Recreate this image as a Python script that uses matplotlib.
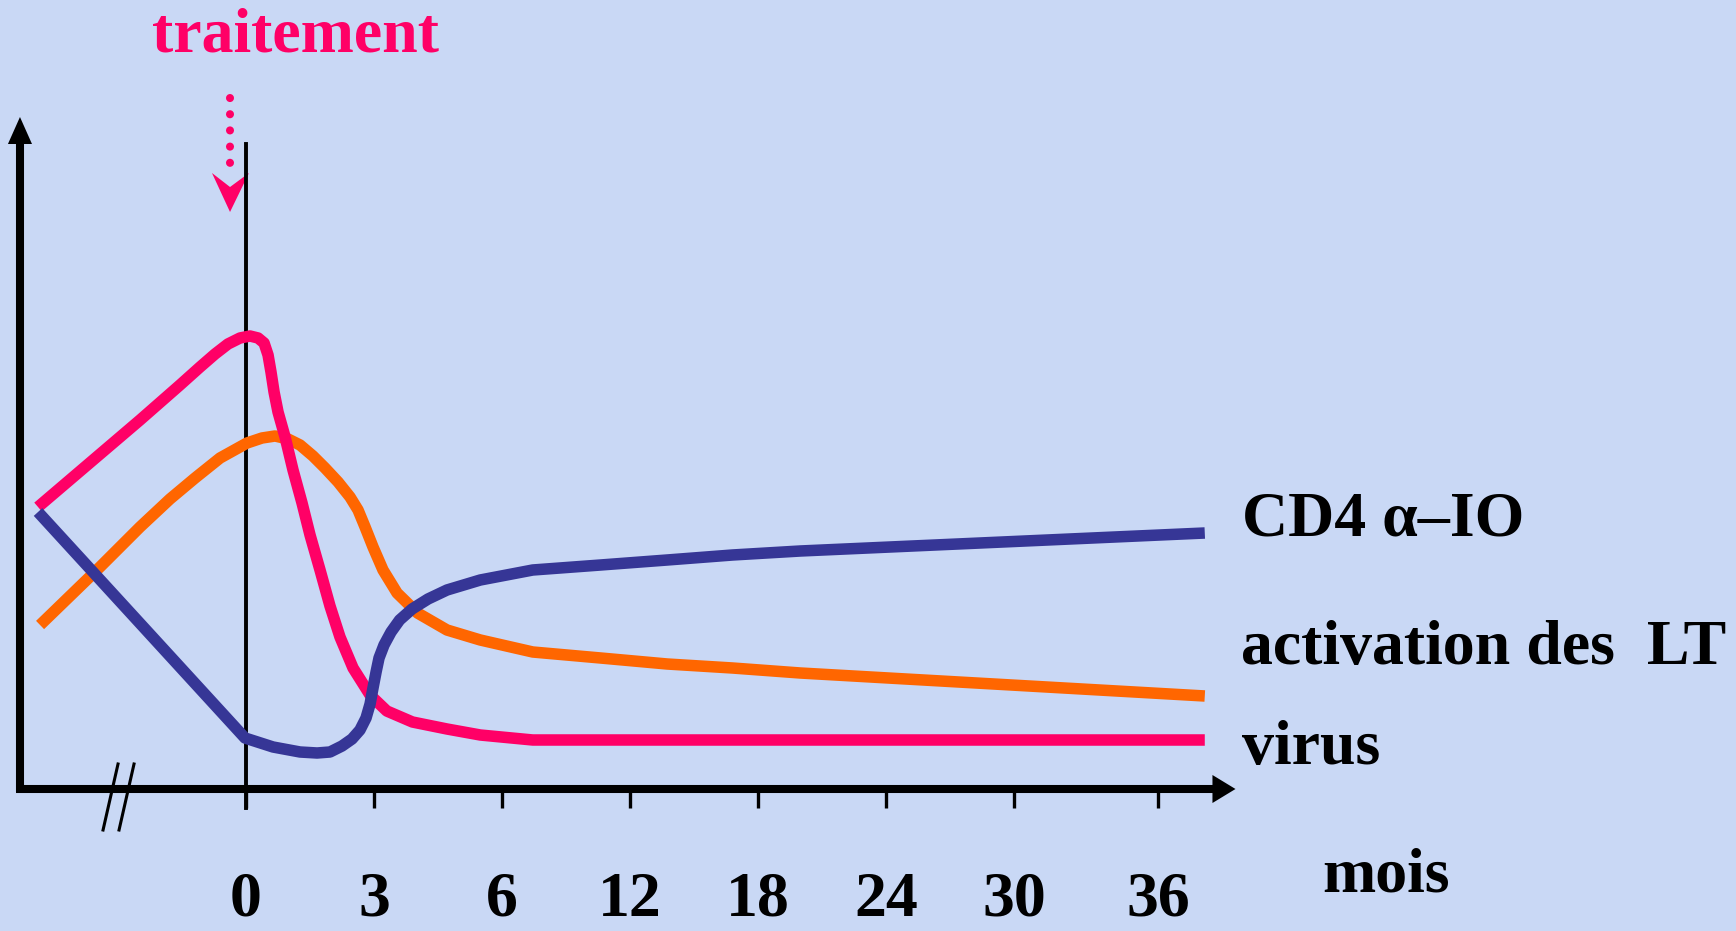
import matplotlib.pyplot as plt

plt.rcParams['font.family'] = ['Liberation Serif', 'DejaVu Serif']

# graduations de l'axe des temps (une unite = un intervalle) et libelles en mois
tick_pos = [0, 1, 2, 3, 4, 5, 6, 7.125]
tick_lab = ["0", "3", "6", "12", "18", "24", "30", "36"]

# charge virale
virus_x = [-1.625, -0.828, -0.516, -0.359, -0.242, -0.141, -0.047, 0.031, 0.094, 0.141,
           0.172, 0.195, 0.219, 0.25, 0.305, 0.367, 0.4375, 0.50, 0.578, 0.656,
           0.734, 0.836, 0.969, 1.10, 1.30, 1.57, 1.83, 2.24, 7.49]
virus_y = [2.82, 3.69, 4.04, 4.22, 4.35, 4.45, 4.51, 4.53, 4.51, 4.46,
           4.34, 4.17, 3.97, 3.77, 3.52, 3.19, 2.86, 2.54, 2.19, 1.83,
           1.52, 1.21, 0.94, 0.78, 0.67, 0.60, 0.54, 0.49, 0.49]

# activation des lymphocytes T
activ_x = [-1.609, -1.141, -0.828, -0.594, -0.398, -0.203, 0.008, 0.125, 0.227, 0.328,
           0.422, 0.523, 0.617, 0.719, 0.8125, 0.875, 0.93, 0.992, 1.07, 1.18,
           1.34, 1.57, 1.83, 2.24, 2.77, 3.29, 3.80, 4.33, 7.49]
activ_y = [1.64, 2.22, 2.62, 2.90, 3.11, 3.31, 3.46, 3.51, 3.53, 3.50,
           3.44, 3.33, 3.21, 3.07, 2.92, 2.79, 2.62, 2.42, 2.19, 1.96,
           1.76, 1.59, 1.49, 1.37, 1.31, 1.25, 1.21, 1.16, 0.93]

# CD4 alpha-IO
cd4_x = [-1.625, -0.008, 0.211, 0.422, 0.555, 0.656, 0.75, 0.828, 0.89, 0.9375,
         0.969, 0.992, 1.016, 1.039, 1.078, 1.133, 1.20, 1.297, 1.422, 1.57,
         1.83, 2.24, 2.77, 3.29, 3.80, 4.33, 7.49]
cd4_y = [2.77, 0.51, 0.42, 0.37, 0.36, 0.37, 0.43, 0.50, 0.59, 0.71,
         0.85, 1.01, 1.17, 1.31, 1.44, 1.57, 1.69, 1.80, 1.90, 1.99,
         2.09, 2.19, 2.24, 2.29, 2.34, 2.38, 2.56]

BG = "#c9d8f5"
PINK = "#ff0066"
ORANGE = "#ff6600"
BLUE = "#363696"

fig = plt.figure(figsize=(17.36, 9.31), dpi=100, facecolor=BG)
ax = fig.add_axes([0, 0, 1, 1])
ax.set_facecolor(BG)
ax.axis("off")
ax.set_xlim(-1.922, 11.64)
ax.set_ylim(-1.42, 7.89)

txt = dict(fontsize=46, fontweight="bold", color="black")

### axes avec fleches ###
y_ax = -1.766
ax.plot([y_ax, y_ax], [-0.03, 6.5], color="black", lw=5.8, solid_capstyle="butt")
ax.fill([y_ax - 0.094, y_ax, y_ax + 0.094], [6.45, 6.72, 6.45], color="black", lw=0)
ax.plot([y_ax - 0.03, 7.6], [0, 0], color="black", lw=5.8, solid_capstyle="butt")
ax.fill([7.55, 7.73, 7.55], [0.14, 0, -0.14], color="black", lw=0)

# graduations
ax.vlines(tick_pos, -0.19, 0, color="black", lw=2.4)
for p, lab in zip(tick_pos, tick_lab):
    ax.text(p, -1.27, lab, ha="center", va="baseline", **txt)

# ligne du debut du traitement
ax.plot([0, 0], [-0.19, 6.45], color="black", lw=2.8)

# coupure de l'axe
ax.plot([-1.0, -1.117], [0.25, -0.41], color="black", lw=2.2)
ax.plot([-0.875, -0.992], [0.25, -0.41], color="black", lw=2.2)

### courbes ###
style = dict(lw=8.3, solid_capstyle="butt", solid_joinstyle="round")
ax.plot(activ_x, activ_y, color=ORANGE, **style)
ax.plot(virus_x, virus_y, color=PINK, **style)
ax.plot(cd4_x, cd4_y, color=BLUE, **style)

# fleche pointillee "traitement"
ax.plot([-0.125, -0.125], [6.91, 6.11], color=PINK, lw=5.8,
        linestyle=(0, (0.01, 2.0)), dash_capstyle="round")
ax.fill([-0.266, -0.125, 0.023, -0.125], [6.16, 5.77, 6.16, 6.02], color=PINK, lw=0)
ax.text(-0.734, 7.37, "traitement", ha="left", va="baseline",
        fontsize=46, fontweight="bold", color=PINK)

# etiquettes des courbes
ax.text(7.78, 2.53, "CD4 \u03b1\u2013IO", ha="left", va="baseline", **txt)
ax.text(7.77, 1.25, "activation des  LT", ha="left", va="baseline", **txt)
ax.text(7.78, 0.25, "virus", ha="left", va="baseline", **txt)
ax.text(8.41, -1.02, "mois", ha="left", va="baseline", **txt)

fig.savefig("out.png", dpi=100, facecolor=fig.get_facecolor())
